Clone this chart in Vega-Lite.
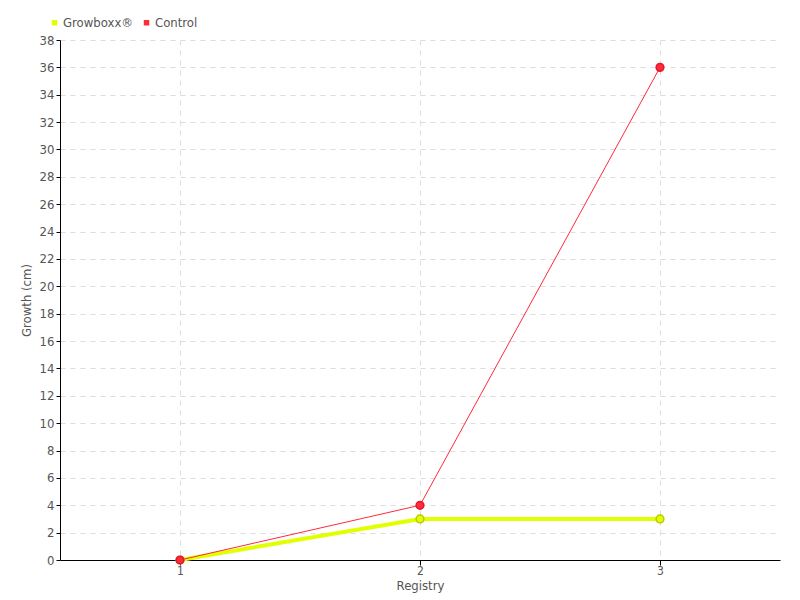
{
  "$schema": "https://vega.github.io/schema/vega-lite/v6.json",
  "width": 720,
  "height": 520,
  "autosize": {"type": "none"},
  "padding": {"left": 60, "top": 40, "right": 20, "bottom": 40},
  "background": "white",
  "config": {
    "font": "DejaVu Sans Condensed",
    "view": {"stroke": null},
    "axis": {
      "labelColor": "#555",
      "titleColor": "#555",
      "labelFontSize": 13,
      "titleFontSize": 13,
      "titleFontWeight": "normal",
      "domainColor": "#000",
      "tickColor": "#000",
      "gridColor": "#dddddd",
      "gridDash": [5, 5]
    }
  },
  "data": {
    "values": [
      {"registry": "1", "series": "Growboxx®", "growth": 0},
      {"registry": "2", "series": "Growboxx®", "growth": 3},
      {"registry": "3", "series": "Growboxx®", "growth": 3},
      {"registry": "1", "series": "Control", "growth": 0},
      {"registry": "2", "series": "Control", "growth": 4},
      {"registry": "3", "series": "Control", "growth": 36}
    ]
  },
  "encoding": {
    "x": {
      "field": "registry",
      "type": "ordinal",
      "scale": {"type": "point", "padding": 0.5},
      "axis": {"title": "Registry", "labelAngle": 0, "grid": true, "tickSize": 5, "labelFontSize": 12, "labelPadding": 0, "titlePadding": 3}
    },
    "y": {
      "field": "growth",
      "type": "quantitative",
      "scale": {"domain": [0, 38], "nice": false},
      "axis": {"title": "Growth (cm)", "values": [0,2,4,6,8,10,12,14,16,18,20,22,24,26,28,30,32,34,36,38], "tickSize": 4, "labelPadding": 2, "titlePadding": 6}
    },
    "color": {
      "field": "series",
      "type": "nominal",
      "scale": {"domain": ["Growboxx®", "Control"], "range": ["#e2ff00", "#ff2a3a"]},
      "legend": {
        "title": null,
        "orient": "none",
        "legendX": -12,
        "legendY": -24,
        "direction": "horizontal",
        "symbolType": "square",
        "symbolSize": 30,
        "labelFontSize": 13,
        "labelColor": "#555",
        "columnPadding": 6,
        "labelOffset": 2,
        "encode": {"symbols": {"update": {"strokeWidth": {"value": 0}, "opacity": {"value": 1}}}}
      }
    }
  },
  "layer": [
    {
      "transform": [{"filter": "datum.series === 'Growboxx®'"}],
      "mark": {"type": "line", "strokeWidth": 4}
    },
    {
      "transform": [{"filter": "datum.series === 'Control'"}],
      "mark": {"type": "line", "strokeWidth": 1}
    },
    {
      "transform": [{"filter": "datum.series === 'Growboxx®'"}],
      "mark": {"type": "point", "filled": true, "size": 60, "opacity": 1, "strokeWidth": 1.5, "stroke": "#b9c800"}
    },
    {
      "transform": [{"filter": "datum.series === 'Control'"}],
      "mark": {"type": "point", "filled": true, "size": 60, "opacity": 1, "strokeWidth": 1.5, "stroke": "#e0192c"}
    }
  ]
}
